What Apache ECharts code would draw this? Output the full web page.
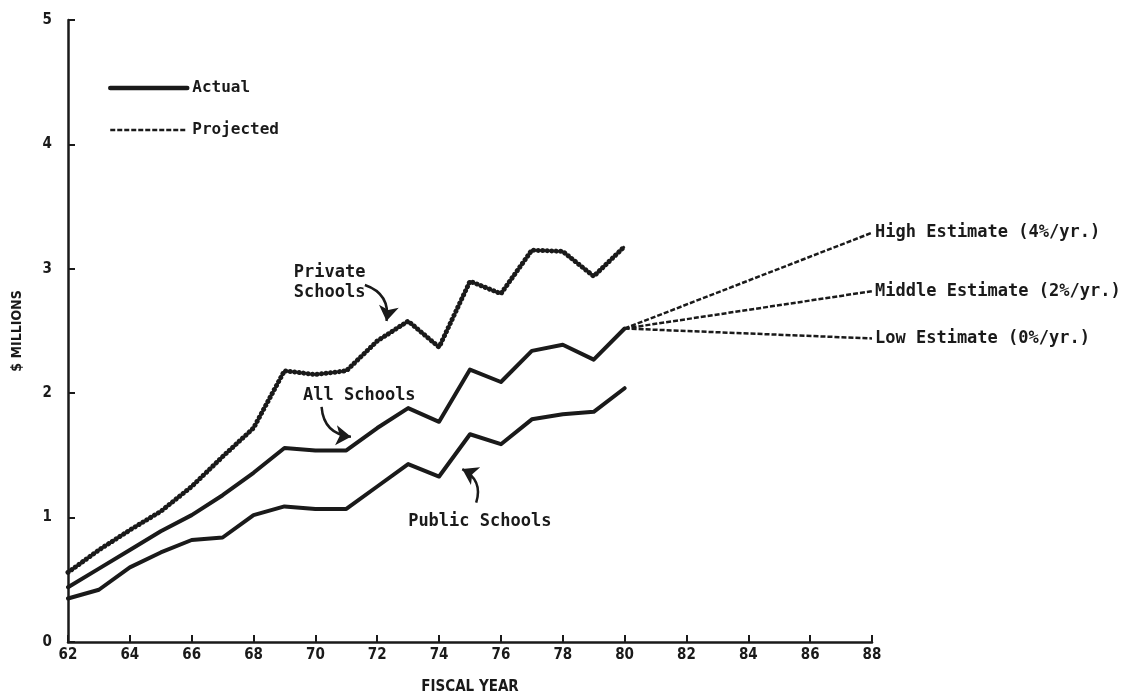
<!DOCTYPE html>
<html><head><meta charset="utf-8">
<script src="https://cdn.jsdelivr.net/npm/echarts@6/dist/echarts.min.js"></script>
<style>html,body{margin:0;padding:0;background:#fff}#c{width:1133px;height:695px}</style>
</head><body><div id="c"></div>
<script>
const years = [62,63,64,65,66,67,68,69,70,71,72,73,74,75,76,77,78,79,80];
const publicSchools  = [0.35,0.42,0.60,0.72,0.82,0.84,1.02,1.09,1.07,1.07,1.25,1.43,1.33,1.67,1.59,1.79,1.83,1.85,2.04];
const allSchools     = [0.44,0.59,0.74,0.89,1.02,1.18,1.36,1.56,1.54,1.54,1.72,1.88,1.77,2.19,2.09,2.34,2.39,2.27,2.52];
const privateSchools = [0.56,0.74,0.90,1.05,1.25,1.49,1.72,2.18,2.15,2.18,2.42,2.58,2.37,2.90,2.80,3.15,3.14,2.94,3.18];
const projYears = [80, 88];
const highEstimate   = [2.52, 3.29];
const middleEstimate = [2.52, 2.82];
const lowEstimate    = [2.52, 2.44];
const xTicks = [62,64,66,68,70,72,74,76,78,80,82,84,86,88];
const yTicks = [0,1,2,3,4,5];
// annotation labels and their pointer arrows (start -> tip, in data units)
const labelTexts = ['Private\nSchools', 'All Schools', 'Public Schools'];
const labelAnchors = [[69.3, 2.89], [69.6, 1.98], [73.0, 0.97]];
const arrowStarts = [[71.6, 2.87], [70.2, 1.89], [75.2, 1.12]];
const arrowTips   = [[72.3, 2.58], [71.15, 1.65], [74.75, 1.39]];
const arrowBends  = [0.42, -0.42, -0.42];

const MONO = "'DejaVu Sans Mono', 'Liberation Mono', monospace";
const NARROW = "'Liberation Sans Narrow', 'DejaVu Sans Condensed', 'DejaVu Sans', sans-serif";
const pairs = (xs, ys) => xs.map((x, i) => [x, ys[i]]);

const chart = echarts.init(document.getElementById('c'), null, {renderer: 'canvas'});
const INK = '#1a1a1a';
const actualStyle = {color: INK, width: 4, join: 'round', cap: 'round'};
const projStyle = {color: INK, width: 2.5, type: [5, 2]};
const txt = {fontFamily: MONO, fontWeight: 'bold', fontSize: 17, color: INK};

function projSeries(data, label) {
  return {
    name: 'Projected', type: 'line', data: pairs(projYears, data), symbol: 'none',
    lineStyle: projStyle, itemStyle: {color: INK}, silent: true, z: 3,
    endLabel: {show: true, formatter: label, ...txt, distance: 3}
  };
}

const option = {
  animation: false,
  backgroundColor: '#fff',
  grid: {left: 68, right: 261, top: 20, bottom: 53, outerBoundsMode: 'none', containLabel: false},
  legend: {
    left: 103, top: 75, orient: 'vertical', itemWidth: 77, itemHeight: 14, itemGap: 26,
    selectedMode: false,
    data: [
      {name: 'Actual', itemStyle: {opacity: 0}, lineStyle: {width: 4.5, color: INK, type: 'solid'}},
      {name: 'Projected', itemStyle: {opacity: 0}, lineStyle: {width: 2.5, color: INK, type: [5, 2]}}
    ],
    textStyle: {...txt, fontSize: 16}
  },
  xAxis: {
    type: 'value', min: 62, max: 88, interval: 2,
    name: 'FISCAL YEAR', nameLocation: 'middle', nameGap: 38,
    nameTextStyle: {fontFamily: NARROW, fontWeight: 'bold', fontSize: 15, color: INK},
    axisLine: {lineStyle: {color: INK, width: 2.5}},
    axisTick: {inside: true, length: 7, lineStyle: {color: INK, width: 2}},
    axisLabel: {fontFamily: NARROW, fontWeight: 'bold', fontSize: 15, color: INK, margin: 6,
      formatter: v => xTicks.includes(v) ? String(v) : ''},
    splitLine: {show: false}
  },
  yAxis: {
    type: 'value', min: 0, max: 5, interval: 1,
    name: '$ MILLIONS', nameLocation: 'middle', nameGap: 44, nameRotate: 90,
    nameTextStyle: {fontFamily: NARROW, fontWeight: 'bold', fontSize: 14, color: INK},
    axisLine: {show: true, lineStyle: {color: INK, width: 2.5}},
    axisTick: {show: true, inside: true, length: 7, lineStyle: {color: INK, width: 2}},
    axisLabel: {fontFamily: NARROW, fontWeight: 'bold', fontSize: 15, color: INK, margin: 16,
      formatter: v => yTicks.includes(v) ? String(v) : ''},
    splitLine: {show: false}
  },
  series: [
    {name: 'Actual', type: 'line', data: pairs(years, allSchools), symbol: 'none',
     lineStyle: actualStyle, itemStyle: {color: INK}, z: 4,
     markPoint: {silent: true, symbol: 'circle', symbolSize: 0,
       label: {show: true, ...txt, align: 'left', verticalAlign: 'middle', lineHeight: 20},
       data: labelTexts.map((t, i) => ({coord: labelAnchors[i], label: {formatter: t}}))}
    },
    {name: 'Actual', type: 'line', data: pairs(years, publicSchools), symbol: 'none',
     lineStyle: actualStyle, itemStyle: {color: INK}, z: 4},
    {name: 'Private Schools', type: 'line', data: pairs(years, privateSchools), symbol: 'none',
     lineStyle: {color: INK, width: 2.2, join: 'round'}, z: 4},
    {name: 'Private Schools dots', type: 'line', data: pairs(years, privateSchools), symbol: 'none',
     lineStyle: {color: INK, width: 5, type: [0.01, 4.5], cap: 'round', join: 'round'}, z: 5},
    projSeries(highEstimate, 'High Estimate (4%/yr.)'),
    projSeries(middleEstimate, 'Middle Estimate (2%/yr.)'),
    projSeries(lowEstimate, 'Low Estimate (0%/yr.)'),
    {name: 'arrows', type: 'lines', coordinateSystem: 'cartesian2d', silent: true, z: 6,
     symbol: ['none', 'arrow'], symbolSize: [13, 15],
     lineStyle: {color: INK, width: 2.5, opacity: 1},
     data: arrowStarts.map((s, i) => ({coords: [s, arrowTips[i]], lineStyle: {curveness: arrowBends[i]}}))}
  ]
};
chart.setOption(option);
</script>
</body></html>
